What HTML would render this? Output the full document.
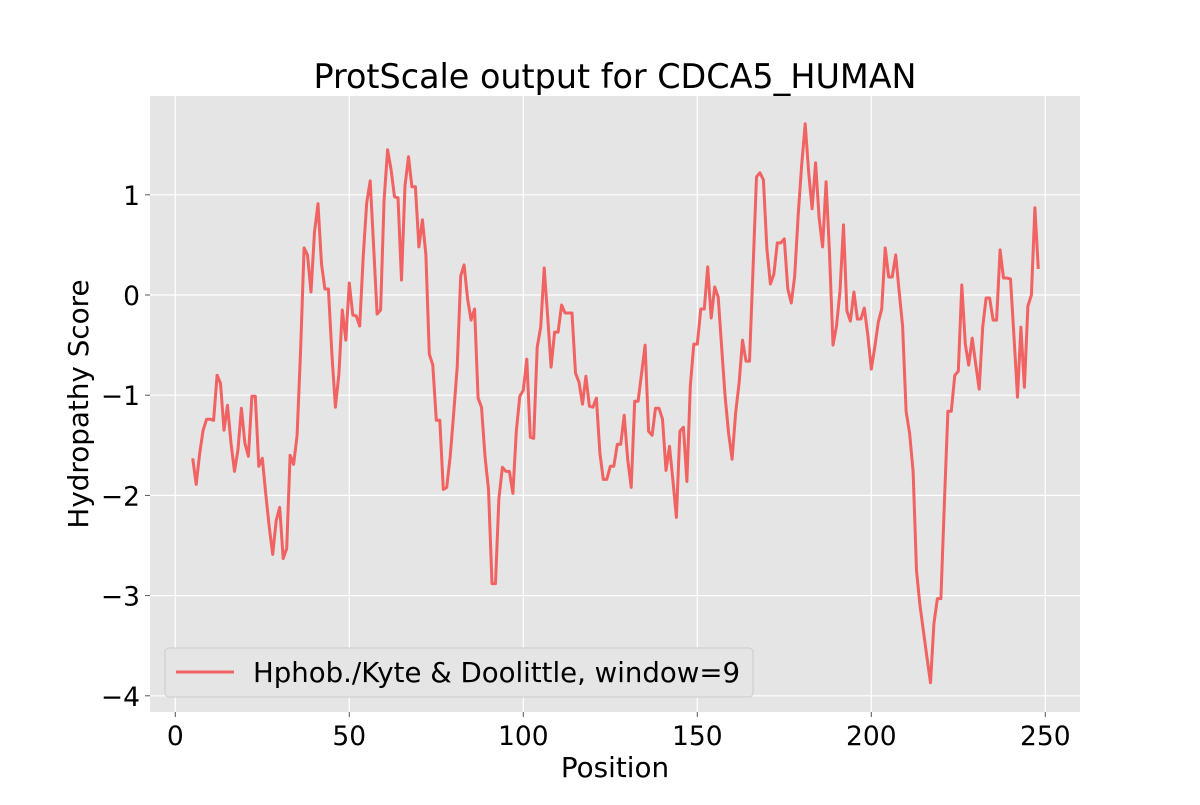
<!DOCTYPE html>
<html><head><meta charset="utf-8"><style>
body{margin:0;background:#fff;}
svg text{font-family:"DejaVu Sans","Liberation Sans",sans-serif;fill:#000;}
</style></head><body>
<svg id="chart" width="1200" height="800" xmlns="http://www.w3.org/2000/svg">
<rect x="0" y="0" width="1200" height="800" fill="#fff"/>
<text x="615" y="88" font-size="33.4" text-anchor="middle">ProtScale output for CDCA5_HUMAN</text>
<rect x="150" y="96" width="930" height="616" fill="#e5e5e5"/>
<g id="grid"></g>
<g id="ticks"></g>
<path id="series" fill="none" stroke="#f16262" stroke-width="3" stroke-linejoin="round"/>
<text x="615" y="777" font-size="27.8" text-anchor="middle">Position</text>
<text transform="translate(88,404) rotate(-90)" font-size="27.8" text-anchor="middle">Hydropathy Score</text>
<g>
<rect x="165" y="648" width="588" height="49" rx="4" fill="#e5e5e5" stroke="#cccccc" stroke-width="1"/>
<line x1="176" y1="672" x2="234" y2="672" stroke="#f16262" stroke-width="3"/>
<text x="253" y="682" font-size="27.6">Hphob./Kyte &amp; Doolittle, window=9</text>
</g>
</svg>
<script>
const startPos = 5;
const scores = [-1.63,-1.89,-1.58,-1.35,-1.24,-1.24,-1.25,-0.80,-0.88,-1.35,-1.10,-1.48,-1.76,-1.55,-1.13,-1.48,-1.61,-1.01,-1.01,-1.71,-1.63,-1.99,-2.32,-2.59,-2.25,-2.12,-2.63,-2.53,-1.60,-1.69,-1.40,-0.55,0.47,0.40,0.03,0.63,0.91,0.31,0.06,0.06,-0.59,-1.12,-0.79,-0.15,-0.45,0.12,-0.20,-0.21,-0.31,0.38,0.92,1.14,0.47,-0.19,-0.15,0.95,1.45,1.25,0.98,0.97,0.15,1.09,1.38,1.08,1.08,0.48,0.75,0.40,-0.59,-0.70,-1.25,-1.25,-1.94,-1.92,-1.61,-1.18,-0.72,0.19,0.30,-0.04,-0.25,-0.14,-1.03,-1.12,-1.61,-1.94,-2.88,-2.88,-2.03,-1.72,-1.76,-1.76,-1.98,-1.36,-1.01,-0.95,-0.64,-1.42,-1.43,-0.52,-0.32,0.27,-0.22,-0.72,-0.37,-0.37,-0.10,-0.18,-0.18,-0.18,-0.78,-0.87,-1.09,-0.81,-1.11,-1.12,-1.03,-1.58,-1.84,-1.84,-1.71,-1.71,-1.49,-1.49,-1.20,-1.64,-1.92,-1.06,-1.06,-0.78,-0.50,-1.36,-1.40,-1.13,-1.13,-1.24,-1.75,-1.51,-1.85,-2.22,-1.36,-1.32,-1.86,-0.91,-0.49,-0.49,-0.14,-0.14,0.28,-0.23,0.08,-0.02,-0.53,-1.01,-1.38,-1.64,-1.18,-0.88,-0.45,-0.66,-0.66,0.25,1.18,1.22,1.15,0.46,0.11,0.21,0.52,0.52,0.56,0.06,-0.08,0.19,0.80,1.30,1.71,1.22,0.86,1.32,0.77,0.48,1.13,0.42,-0.50,-0.31,0.04,0.70,-0.16,-0.26,0.03,-0.24,-0.24,-0.13,-0.40,-0.74,-0.52,-0.27,-0.14,0.47,0.18,0.18,0.40,0.04,-0.31,-1.16,-1.38,-1.76,-2.75,-3.10,-3.36,-3.62,-3.87,-3.28,-3.03,-3.03,-2.07,-1.16,-1.16,-0.80,-0.76,0.10,-0.49,-0.70,-0.43,-0.69,-0.94,-0.32,-0.03,-0.03,-0.25,-0.25,0.45,0.17,0.17,0.16,-0.42,-1.02,-0.32,-0.92,-0.11,0.00,0.87,0.26];
const xTicks = [0,50,100,150,200,250];
const yTicks = [1,0,-1,-2,-3,-4];

const NS = "http://www.w3.org/2000/svg";
const xs = v => 175.3 + v * 3.48;
const ys = v => 295 - v * 100.2;
const grid = document.getElementById('grid');
const ticks = document.getElementById('ticks');
function mk(tag, attrs, parent){const e=document.createElementNS(NS,tag);for(const k in attrs)e.setAttribute(k,attrs[k]);parent.appendChild(e);return e;}
xTicks.forEach(t=>{
  const g = mk('line',{x1:xs(t),x2:xs(t),y1:96,y2:712,stroke:'#fff','stroke-width':1.2},grid);
  
  
  const tk = mk('line',{x1:xs(t),x2:xs(t),y1:712,y2:717,stroke:'#555','stroke-width':1},ticks);
  
  
  const l = mk('text',{x:xs(t),y:745,'font-size':26.5,'text-anchor':'middle'},ticks);
  l.textContent = String(t);
  
  
});
yTicks.forEach(t=>{
  const g = mk('line',{x1:150,x2:1080,y1:ys(t),y2:ys(t),stroke:'#fff','stroke-width':1.2},grid);
  
  
  const tk = mk('line',{x1:145,x2:150,y1:ys(t),y2:ys(t),stroke:'#555','stroke-width':1},ticks);
  
  
  const l = mk('text',{x:140,y:ys(t)+10,'font-size':26.5,'text-anchor':'end'},ticks);
  l.textContent = t<0 ? '\u2212'+Math.abs(t) : String(t);
  
  
});
document.getElementById('series').setAttribute('d', scores.map((v,i)=>(i?'L':'M')+xs(startPos+i).toFixed(1)+','+ys(v).toFixed(1)).join(''));
</script>
</body></html>
